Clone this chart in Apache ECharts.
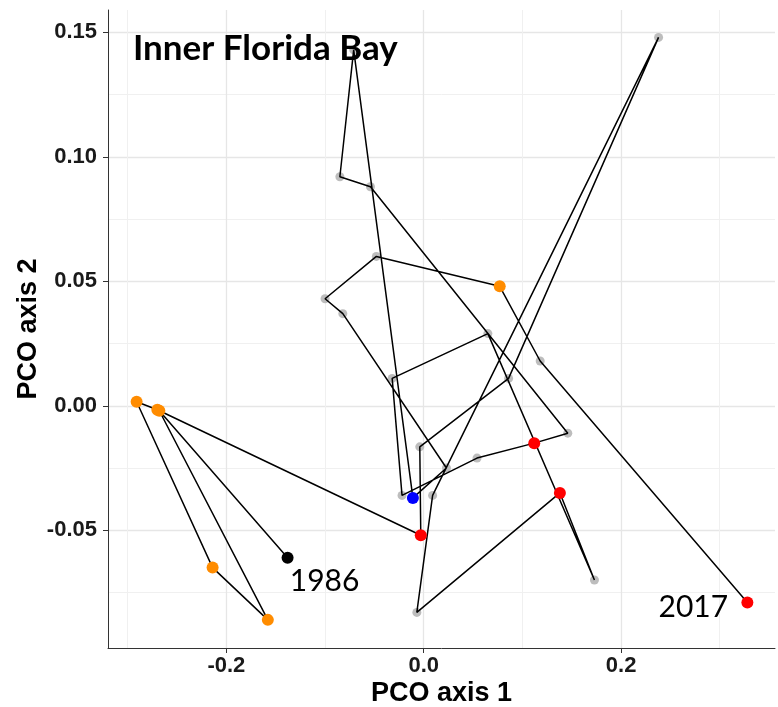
<!DOCTYPE html>
<html>
<head>
<meta charset="utf-8">
<script src="https://cdn.jsdelivr.net/npm/echarts@6/dist/echarts.min.js"></script>
<style>
  html, body { margin: 0; padding: 0; background: #ffffff; }
  #chart { width: 778px; height: 707px; }
</style>
</head>
<body>
<div id="chart"></div>
<script>
// Yearly community positions on the first two principal coordinates, in time order
const pco1 = [-0.138, -0.268, -0.158, -0.214, -0.291, -0.270, -0.003, -0.004, 0.086, 0.238,
              0.009, -0.007, 0.138, 0.173, 0.065, -0.032, -0.022, 0.054, 0.112, 0.146,
              -0.054, -0.085, -0.071, -0.011, 0.023, -0.082, -0.100, -0.048, 0.077, 0.118,
              0.328];
const pco2 = [-0.061, -0.002, -0.086, -0.065, 0.0016, -0.0016, -0.052, -0.0165, 0.011, 0.148,
              -0.036, -0.083, -0.035, -0.070, 0.029, 0.011, -0.036, -0.021, -0.015, -0.011,
              0.088, 0.092, 0.143, -0.037, -0.025, 0.037, 0.043, 0.060, 0.048, 0.018,
              -0.079];
// Highlight class of each year
const pointGroup = ['start', 'orange', 'orange', 'orange', 'orange', 'orange', 'red', 'gray', 'gray', 'gray',
                    'gray', 'gray', 'red', 'gray', 'gray', 'gray', 'gray', 'gray', 'red', 'gray',
                    'gray', 'gray', 'gray', 'blue', 'gray', 'gray', 'gray', 'gray', 'orange', 'gray',
                    'red'];
const firstYearLabel = '1986';
const lastYearLabel = '2017';

// Axis ticks
const xMajorTicks = [-0.2, 0, 0.2];
const xMinorTicks = [-0.3, -0.1, 0.1, 0.3];
const yMajorTicks = [-0.05, 0, 0.05, 0.1, 0.15];
const yMinorTicks = [-0.075, -0.025, 0.025, 0.075, 0.125];

const groupColor = { start: '#000000', orange: '#FF8C00', red: '#FF0000', blue: '#0000FF', gray: '#bdbdbd' };

const X_RANGE = [-0.32, 0.356];
const Y_RANGE = [-0.0973, 0.159];

const tickFont = { fontFamily: '"Liberation Sans", Arial, sans-serif', fontWeight: 'bold', fontSize: 22, color: '#1a1a1a' };
const nameFont = { fontFamily: '"Liberation Sans", Arial, sans-serif', fontWeight: 'bold', fontSize: 27, color: '#000000' };

function majorAxis(range, ticks, fmt, extra) {
  return Object.assign({
    type: 'value',
    min: range[0],
    max: range[1],
    axisLine: { show: true, onZero: false, lineStyle: { color: '#333333', width: 1 } },
    axisTick: { show: true, inside: false, length: 5, customValues: ticks, lineStyle: { color: '#333333', width: 1 } },
    axisLabel: Object.assign({ customValues: ticks, formatter: fmt }, tickFont),
    splitLine: { show: true, lineStyle: { color: '#e6e6e6', width: 1.3 } },
    nameLocation: 'middle',
    nameMoveOverlap: false,
    nameTextStyle: nameFont
  }, extra);
}
function minorAxis(range, ticks, extra) {
  return Object.assign({
    type: 'value',
    min: range[0],
    max: range[1],
    axisLine: { show: false },
    axisTick: { show: false, customValues: ticks },
    axisLabel: { show: false, customValues: ticks },
    splitLine: { show: true, lineStyle: { color: '#f0f0f0', width: 1 } }
  }, extra);
}

const allPoints = pco1.map((x, i) => [x, pco2[i]]);
const grayPoints = [];
const coloredPoints = [];
pco1.forEach((x, i) => {
  const g = pointGroup[i];
  if (g === 'gray') {
    grayPoints.push([x, pco2[i]]);
  } else {
    const item = { value: [x, pco2[i]], itemStyle: { color: groupColor[g], opacity: 1 } };
    if (i === 0) {
      item.label = { show: true, formatter: firstYearLabel, position: 'inside', offset: [37, 24] };
    } else if (i === pco1.length - 1) {
      item.label = { show: true, formatter: lastYearLabel, position: 'inside', offset: [-54, 5] };
    }
    coloredPoints.push(item);
  }
});

const chart = echarts.init(document.getElementById('chart'), null, { renderer: 'canvas' });
chart.setOption({
  backgroundColor: '#ffffff',
  animation: false,
  title: {
    text: 'Inner Florida Bay',
    left: 133,
    top: 31,
    padding: 0,
    textStyle: { fontFamily: 'Lato, "Open Sans", sans-serif', fontWeight: 'bold', fontSize: 35, color: '#000000' }
  },
  grid: { left: 108, right: 3, top: 10, bottom: 59, containLabel: false, outerBoundsMode: 'none' },
  xAxis: [
    majorAxis(X_RANGE, xMajorTicks, v => v.toFixed(1), {
      name: 'PCO axis 1', nameGap: 32,
      axisLabel: Object.assign({ customValues: xMajorTicks, formatter: v => v.toFixed(1), margin: 7 }, tickFont)
    }),
    minorAxis(X_RANGE, xMinorTicks, { position: 'bottom' })
  ],
  yAxis: [
    majorAxis(Y_RANGE, yMajorTicks, v => v.toFixed(2), {
      name: 'PCO axis 2', nameGap: 66, nameRotate: 90,
      axisLabel: Object.assign({ customValues: yMajorTicks, formatter: v => v.toFixed(2), margin: 11 }, tickFont)
    }),
    minorAxis(Y_RANGE, yMinorTicks, { position: 'left' })
  ],
  series: [
    {
      type: 'scatter',
      name: 'years',
      data: grayPoints,
      symbolSize: 9,
      itemStyle: { color: groupColor.gray, opacity: 1 },
      z: 2,
      silent: true
    },
    {
      type: 'line',
      name: 'trajectory',
      data: allPoints,
      showSymbol: false,
      symbol: 'none',
      lineStyle: { color: '#000000', width: 1.5 },
      z: 3,
      silent: true
    },
    {
      type: 'scatter',
      name: 'highlighted',
      data: coloredPoints,
      symbolSize: 12,
      itemStyle: { opacity: 1 },
      label: {
        fontFamily: 'Lato, "Open Sans", sans-serif',
        fontSize: 30,
        color: '#000000',
        opacity: 1,
        align: 'center',
        verticalAlign: 'middle'
      },
      z: 4,
      silent: true
    }
  ]
});
</script>
</body>
</html>
